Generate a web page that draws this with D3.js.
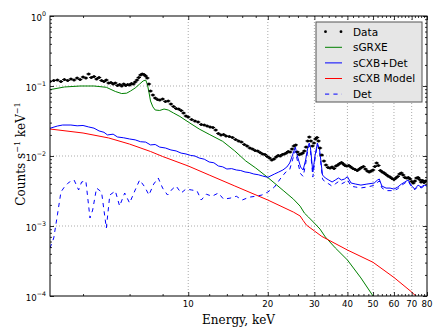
<!DOCTYPE html>
<html>
<head>
<meta charset="utf-8">
<script src="https://cdn.jsdelivr.net/npm/d3@7"></script>
<style>
  body { margin: 0; background: #fff; }
  text { font-family: "DejaVu Sans", sans-serif; }
</style>
</head>
<body>
<div id="chart-area"></div>
<script>
// energy (keV), counts s^-1 keV^-1
const dataPts = [[3.0,0.1160],[3.1,0.1198],[3.2,0.1218],[3.3,0.1160],[3.4,0.1238],[3.5,0.1198],[3.6,0.1259],[3.7,0.1218],[3.8,0.1301],[3.9,0.1238],[4.0,0.1345],[4.1,0.1301],[4.2,0.1484],[4.3,0.1323],[4.4,0.1367],[4.5,0.1259],[4.6,0.1323],[4.7,0.1198],[4.8,0.1160],[4.9,0.1218],[5.0,0.1104],[5.1,0.1122],[5.2,0.1068],[5.3,0.1104],[5.4,0.1017],[5.5,0.1051],[5.6,0.1000],[5.7,0.1068],[5.8,0.1017],[5.9,0.1051],[6.0,0.1033],[6.1,0.1086],[6.2,0.1068],[6.3,0.1141],[6.4,0.1218],[6.5,0.1323],[6.6,0.1436],[6.7,0.1484],[6.8,0.1460],[6.9,0.1389],[7.0,0.1301],[7.1,0.1068],[7.2,0.0848],[7.35,0.0744],[7.5,0.0674],[7.65,0.0641],[7.8,0.0631],[8.0,0.0652],[8.2,0.0601],[8.4,0.0611],[8.6,0.0553],[8.8,0.0510],[9.0,0.0477],[9.2,0.0469],[9.4,0.0447],[9.6,0.0411],[9.8,0.0373],[10.0,0.0361],[10.3,0.0332],[10.6,0.0316],[10.9,0.0306],[11.2,0.0282],[11.5,0.0277],[11.8,0.0268],[12.1,0.0260],[12.4,0.0255],[12.7,0.0235],[13.0,0.0210],[13.3,0.0200],[13.6,0.0203],[13.9,0.0193],[14.3,0.0190],[14.7,0.0184],[15.1,0.0172],[15.5,0.0164],[15.9,0.0158],[16.3,0.0146],[16.7,0.0139],[17.1,0.0130],[17.5,0.0126],[17.9,0.0120],[18.3,0.0118],[18.7,0.0112],[19.1,0.0107],[19.5,0.0105],[19.9,0.00984],[20.3,0.00936],[20.7,0.00877],[21.1,0.00906],[21.5,0.00968],[21.9,0.0102],[22.3,0.0100],[22.7,0.0105],[23.1,0.0107],[23.5,0.0110],[23.9,0.0116],[24.3,0.0114],[24.7,0.0126],[25.1,0.0139],[25.5,0.0144],[25.9,0.0114],[26.3,0.0105],[26.7,0.0107],[27.1,0.0110],[27.5,0.0118],[27.9,0.0134],[28.3,0.0164],[28.7,0.0187],[29.1,0.0164],[29.5,0.0139],[29.9,0.0153],[30.3,0.0175],[30.7,0.0184],[31.1,0.0164],[31.5,0.0130],[32.0,0.0103],[32.6,0.00848],[33.2,0.00744],[33.8,0.00685],[34.4,0.00674],[35.0,0.00696],[35.6,0.00663],[36.2,0.00720],[36.8,0.00744],[37.4,0.00781],[38.0,0.00807],[38.6,0.00769],[39.2,0.00732],[39.8,0.00720],[40.5,0.00732],[41.2,0.00696],[42.0,0.00663],[42.8,0.00641],[43.6,0.00621],[44.4,0.00652],[45.2,0.00685],[46.0,0.00708],[46.8,0.00652],[47.6,0.00611],[48.4,0.00591],[49.2,0.00611],[50.0,0.00631],[50.8,0.00708],[51.6,0.00794],[52.4,0.00732],[53.3,0.00621],[54.2,0.00591],[55.1,0.00572],[56.0,0.00544],[57.0,0.00518],[58.0,0.00501],[59.0,0.00477],[60.0,0.00462],[61.0,0.00485],[62.0,0.00510],[63.0,0.00553],[64.0,0.00572],[65.0,0.00535],[66.0,0.00493],[67.0,0.00485],[68.0,0.00493],[69.0,0.00469],[70.0,0.00432],[71.0,0.00411],[72.0,0.00439],[73.0,0.00485],[74.0,0.00493],[75.0,0.00462],[76.0,0.00425],[77.0,0.00447],[78.0,0.00418],[79.0,0.00439]]

const sgrxe = [[3.0,0.0887],[3.4,0.0968],[3.9,0.1000],[4.4,0.1000],[4.9,0.0958],[5.3,0.0835],[5.6,0.0780],[5.85,0.0790],[6.05,0.0848],[6.3,0.0937],[6.55,0.1068],[6.75,0.1180],[6.9,0.1218],[7.0,0.1070],[7.1,0.0820],[7.2,0.0610],[7.35,0.0503],[7.5,0.0454],[7.8,0.0447],[8.1,0.0469],[8.4,0.0454],[8.8,0.0411],[9.3,0.0367],[10.0,0.0306],[11.0,0.0243],[12.0,0.0204],[13.5,0.0162],[15.0,0.0118],[16.5,0.0085],[18.0,0.00674],[20.0,0.00493],[23.0,0.00316],[25.0,0.00242],[26.5,0.00192],[27.5,0.00153],[28.5,0.00134],[30.0,0.00110],[31.5,0.000905],[33.0,0.000697],[36.0,0.000486],[40.0,0.000327],[45.0,0.000181],[50.0,0.000100],[55.0,0.0000580]]

const scxbDet = [[3.0,0.0249],[3.2,0.0268],[3.35,0.0277],[3.6,0.0277],[3.8,0.0270],[4.0,0.0273],[4.2,0.0260],[4.4,0.0250],[4.6,0.0228],[4.8,0.0218],[4.95,0.0200],[5.2,0.0205],[5.4,0.0187],[5.7,0.0182],[6.0,0.0175],[6.3,0.0170],[6.6,0.0160],[6.9,0.0158],[7.2,0.0144],[7.5,0.0146],[7.8,0.0134],[8.2,0.0130],[8.6,0.0122],[9.0,0.0118],[9.4,0.0110],[9.8,0.0107],[10.2,0.0102],[10.6,0.0100],[11.0,0.00936],[11.5,0.00900],[12.0,0.00821],[12.5,0.00800],[13.0,0.00720],[13.5,0.00700],[14.0,0.00652],[14.6,0.00660],[15.2,0.00631],[15.8,0.00620],[16.4,0.00591],[17.0,0.00580],[17.7,0.00553],[18.4,0.00540],[19.1,0.00518],[20.0,0.00496],[21.2,0.00553],[22.0,0.00591],[22.8,0.00631],[23.6,0.00696],[24.2,0.00794],[24.8,0.0103],[25.4,0.0134],[26.0,0.00937],[26.6,0.00696],[27.2,0.00631],[27.8,0.00877],[28.4,0.0139],[28.7,0.0153],[29.0,0.0130],[29.6,0.00591],[30.2,0.0103],[30.8,0.0153],[31.4,0.0122],[32.2,0.00535],[33.0,0.00485],[34.0,0.00454],[35.0,0.00425],[36.0,0.00454],[37.0,0.00485],[38.0,0.00454],[39.0,0.00469],[40.0,0.00506],[41.3,0.00411],[43.0,0.00397],[45.0,0.00384],[47.4,0.00397],[50.5,0.00411],[52.0,0.00454],[52.8,0.00469],[54.0,0.00372],[56.0,0.00348],[58.0,0.00348],[60.0,0.00337],[62.0,0.00360],[64.0,0.00397],[66.0,0.00425],[67.8,0.00454],[70.0,0.00372],[72.0,0.00337],[74.0,0.00384],[76.0,0.00360],[78.0,0.00384],[80.0,0.00372]]

const scxbModel = [[3.0,0.0243],[4.0,0.0213],[5.0,0.0181],[6.0,0.0148],[7.2,0.0116],[8.0,0.00984],[10.0,0.0072],[12.0,0.00535],[15.0,0.00373],[20.0,0.00235],[25.0,0.00158],[26.5,0.00139],[27.2,0.00120],[28.0,0.00103],[30.0,0.00085],[32.0,0.00071],[40.0,0.000454],[50.0,0.000303],[60.0,0.000184],[70.0,0.000114],[80.0,0.000070]]

const det = [[3.0,0.000485],[3.1,0.000674],[3.2,0.00144],[3.3,0.00306],[3.4,0.00361],[3.55,0.00425],[3.7,0.00454],[3.85,0.00327],[3.95,0.00425],[4.1,0.00440],[4.25,0.00130],[4.35,0.00169],[4.5,0.00348],[4.7,0.00306],[4.9,0.000936],[5.05,0.00277],[5.3,0.00316],[5.5,0.00193],[5.75,0.00296],[6.0,0.00213],[6.3,0.00327],[6.55,0.00454],[6.85,0.00361],[7.1,0.00277],[7.4,0.00397],[7.7,0.00485],[8.0,0.00348],[8.35,0.00277],[8.7,0.00337],[9.0,0.00372],[9.4,0.00296],[9.8,0.00337],[10.3,0.00327],[10.8,0.00316],[11.2,0.00235],[11.7,0.00285],[12.3,0.00266],[13.0,0.00296],[13.6,0.00242],[14.4,0.00250],[15.2,0.00266],[16.0,0.00235],[17.0,0.00258],[18.0,0.00266],[19.0,0.00277],[20.0,0.00306],[21.2,0.00361],[22.4,0.00485],[23.4,0.00591],[24.2,0.0064],[24.8,0.0088],[25.4,0.0118],[26.0,0.0079],[26.6,0.0056],[27.2,0.0051],[27.8,0.0077],[28.4,0.0128],[28.7,0.0142],[29.0,0.0120],[29.6,0.0050],[30.2,0.0095],[30.8,0.0145],[31.4,0.0114],[32.2,0.0047],[33,0.0042],[34,0.0040],[35,0.0037],[36,0.0040],[37,0.0043],[38,0.0040],[39,0.0042],[40,0.0046],[41.3,0.0037],[43,0.0036],[45,0.0035],[47.4,0.0036],[50.5,0.0038],[52,0.0042],[52.8,0.0044],[54,0.0035],[56,0.0032],[58,0.0032],[60,0.0032],[62,0.0034],[64,0.0038],[66,0.0041],[67.8,0.0044],[70,0.0036],[72,0.0033],[74,0.0037],[76,0.0035],[78,0.0037],[80,0.0036]]

const xTicks = [10, 20, 30, 40, 50, 60, 70, 80]
const yExponents = [0, -1, -2, -3, -4]
const legendLabels = ["Data", "sGRXE", "sCXB+Det", "sCXB Model", "Det"]

const svg = d3.select("#chart-area").append("svg")
    .attr("width", 443)
    .attr("height", 332)

const pLeft = 50, pRight = 427, pTop = 16, pBottom = 296

const x = d3.scaleLog().domain([3, 80]).range([pLeft, pRight])
const y = d3.scaleLog().domain([1e-4, 1]).range([pBottom, pTop])

// minor ticks: every 2 keV on x, 2..9 per decade on y
const xMinor = d3.range(4, 80, 2).filter(d => d % 10 !== 0)
const yMinor = []
yExponents.slice(1).forEach(e => d3.range(2, 10).forEach(k => yMinor.push(k * Math.pow(10, e))))

svg.append("defs").append("clipPath").attr("id", "clip")
  .append("rect").attr("x", pLeft).attr("y", pTop)
  .attr("width", pRight - pLeft).attr("height", pBottom - pTop)

// dotted grid
const grid = svg.append("g")
    .attr("stroke", "#000")
    .attr("stroke-width", 0.6)
    .attr("stroke-dasharray", "1,2")
    .attr("opacity", 0.55)
grid.selectAll(".gx").data(xTicks.slice(0, -1)).join("line")
    .attr("x1", d => x(d)).attr("x2", d => x(d))
    .attr("y1", pTop).attr("y2", pBottom)
grid.selectAll(".gy").data(yExponents.slice(1, -1)).join("line")
    .attr("x1", pLeft).attr("x2", pRight)
    .attr("y1", d => y(Math.pow(10, d))).attr("y2", d => y(Math.pow(10, d)))

const plot = svg.append("g").attr("clip-path", "url(#clip)")
const line = d3.line().x(d => x(d[0])).y(d => y(d[1]))

plot.append("path").datum(sgrxe).attr("d", line)
    .attr("fill", "none").attr("stroke", "#008000").attr("stroke-width", 1)
plot.append("path").datum(scxbModel).attr("d", line)
    .attr("fill", "none").attr("stroke", "#ff0000").attr("stroke-width", 1)
plot.append("path").datum(det).attr("d", line)
    .attr("fill", "none").attr("stroke", "#0000ff").attr("stroke-width", 1)
    .attr("stroke-dasharray", "4.2,4.2")
plot.append("path").datum(scxbDet).attr("d", line)
    .attr("fill", "none").attr("stroke", "#0000ff").attr("stroke-width", 1)

// data points with small energy bars
const pts = plot.append("g").selectAll("g").data(dataPts).join("g")
    .attr("transform", d => `translate(${x(d[0])},${y(d[1])})`)
pts.append("line").attr("x1", -2.2).attr("x2", 2.2)
    .attr("stroke", "#000").attr("stroke-width", 1)
pts.append("circle").attr("r", 1.5).attr("fill", "#000")

// ticks on all four sides, pointing in
function ticks(makeAxis, major, minor, transform) {
  const g = svg.append("g").attr("transform", transform)
  g.append("g").call(makeAxis().tickValues(major).tickSize(-4).tickFormat(""))
  g.append("g").call(makeAxis().tickValues(minor).tickSize(-2).tickFormat(""))
  g.selectAll(".domain").remove()
  g.selectAll("line").attr("stroke", "#000").attr("stroke-width", 0.8)
}
const yMajor = yExponents.map(e => Math.pow(10, e))
ticks(() => d3.axisBottom(x), xTicks, xMinor, `translate(0,${pBottom})`)
ticks(() => d3.axisTop(x), xTicks, xMinor, `translate(0,${pTop})`)
ticks(() => d3.axisLeft(y), yMajor, yMinor, `translate(${pLeft},0)`)
ticks(() => d3.axisRight(y), yMajor, yMinor, `translate(${pRight},0)`)

svg.append("rect")
    .attr("x", pLeft).attr("y", pTop)
    .attr("width", pRight - pLeft).attr("height", pBottom - pTop)
    .attr("fill", "none").attr("stroke", "#000").attr("stroke-width", 1)

// tick labels
svg.append("g").selectAll("text").data(xTicks).join("text")
    .attr("x", d => x(d)).attr("y", 307)
    .attr("text-anchor", "middle")
    .attr("font-size", 8.6)
    .text(d => d)

const yl = svg.append("g").selectAll("text").data(yExponents).join("text")
    .attr("x", 46).attr("y", d => y(Math.pow(10, d)) + 4.5)
    .attr("text-anchor", "end")
    .attr("font-size", 8.6)
yl.append("tspan").text("10")
yl.append("tspan").attr("dy", -5).attr("font-size", 6.3)
    .text(d => d === 0 ? "0" : "\u2212" + Math.abs(d))

// axis titles
svg.append("text")
    .attr("x", (pLeft + pRight) / 2).attr("y", 324)
    .attr("text-anchor", "middle")
    .style("font-family", "'DejaVu Serif', serif")
    .attr("font-size", 12)
    .text("Energy, keV")

const ylab = svg.append("text")
    .attr("transform", "translate(25,154) rotate(-90)")
    .attr("text-anchor", "middle")
    .style("font-family", "'DejaVu Serif', serif")
    .attr("font-size", 12)
ylab.append("tspan").text("Counts s")
ylab.append("tspan").attr("dy", -5).attr("font-size", 8).text("\u22121")
ylab.append("tspan").attr("dy", 5).text(" keV")
ylab.append("tspan").attr("dy", -5).attr("font-size", 8).text("\u22121")

// legend
const lg = svg.append("g")
lg.append("rect")
    .attr("x", 316).attr("y", 22).attr("width", 106).attr("height", 80)
    .attr("fill", "#e6e6e6").attr("stroke", "#555").attr("stroke-width", 1)
const styles = [
  { color: "#000", dash: null },
  { color: "#008000", dash: null },
  { color: "#0000ff", dash: null },
  { color: "#ff0000", dash: null },
  { color: "#0000ff", dash: "4.2,4.2" }
]
legendLabels.forEach((label, i) => {
  const cy = 31.7 + i * 15.6
  if (i === 0) {
    lg.append("circle").attr("cx", 325.5).attr("cy", cy).attr("r", 1.4).attr("fill", "#000")
    lg.append("circle").attr("cx", 341).attr("cy", cy).attr("r", 1.4).attr("fill", "#000")
  } else {
    lg.append("line")
        .attr("x1", 325).attr("x2", 342).attr("y1", cy).attr("y2", cy)
        .attr("stroke", styles[i].color).attr("stroke-width", 1)
        .attr("stroke-dasharray", styles[i].dash)
  }
  lg.append("text")
      .attr("x", 353).attr("y", cy + 3.8)
      .attr("font-size", 10.5)
      .text(label)
})
</script>
</body>
</html>
